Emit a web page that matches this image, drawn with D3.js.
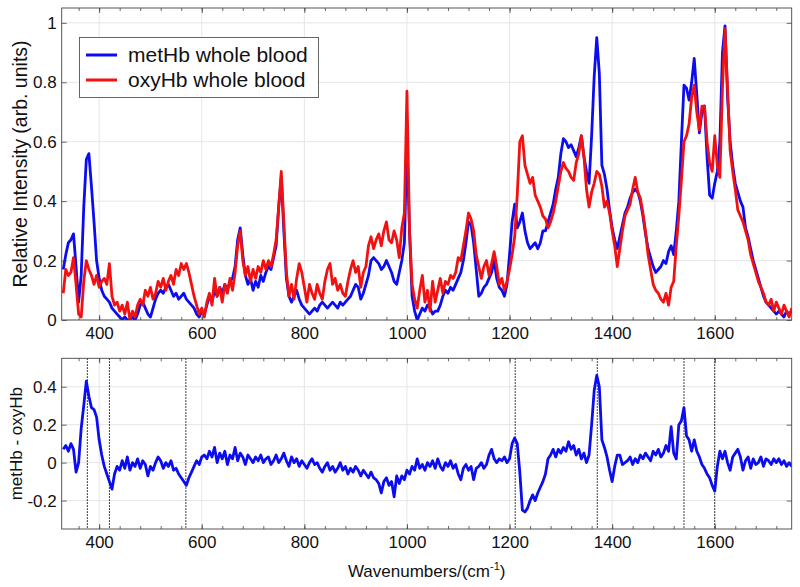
<!DOCTYPE html>
<html><head><meta charset="utf-8">
<script src="https://cdn.jsdelivr.net/npm/d3@7"></script>
<style>
body{margin:0;background:#fff}
svg{display:block}
text{font-family:"Liberation Sans",Arial,Helvetica,sans-serif;fill:#111}
</style>
</head><body><svg id="c" width="800" height="587"></svg>
<script>
// x sampling grid (cm^-1)
const wavenumbers = d3.range(330, 1751, 5);

const metHb = [
0.17,0.22,0.26,0.27,0.29,0.18,0.06,0.15,0.38,0.54,
0.56,0.45,0.33,0.2,0.14,0.1,0.08,0.07,0.06,0.04,
0.03,0.02,0.01,0.0,0.01,0.0,0.0,0.01,0.0,0.02,
0.05,0.06,0.04,0.02,0.01,0.04,0.07,0.09,0.1,0.09,
0.11,0.12,0.1,0.08,0.09,0.07,0.08,0.09,0.07,0.06,
0.05,0.04,0.02,0.01,0.03,0.02,0.05,0.08,0.06,0.1,
0.08,0.11,0.09,0.12,0.1,0.13,0.14,0.18,0.27,0.31,
0.22,0.15,0.12,0.14,0.1,0.13,0.11,0.15,0.13,0.16,
0.18,0.17,0.21,0.25,0.38,0.48,0.3,0.14,0.08,0.06,
0.08,0.1,0.07,0.05,0.04,0.03,0.02,0.03,0.04,0.03,
0.05,0.06,0.05,0.04,0.05,0.06,0.05,0.04,0.06,0.05,
0.06,0.07,0.08,0.1,0.12,0.11,0.07,0.09,0.12,0.15,
0.2,0.21,0.2,0.19,0.17,0.18,0.2,0.18,0.16,0.13,
0.12,0.16,0.2,0.26,0.6,0.3,0.08,0.03,0.0,0.02,
0.04,0.03,0.05,0.04,0.02,0.03,0.03,0.05,0.08,0.1,
0.09,0.11,0.1,0.12,0.14,0.16,0.2,0.26,0.33,0.32,
0.26,0.17,0.08,0.09,0.11,0.12,0.14,0.16,0.2,0.14,
0.11,0.1,0.08,0.12,0.22,0.33,0.39,0.31,0.33,0.36,
0.3,0.26,0.24,0.25,0.26,0.24,0.26,0.3,0.3,0.33,
0.36,0.39,0.44,0.48,0.56,0.61,0.6,0.58,0.59,0.57,
0.55,0.58,0.62,0.55,0.5,0.46,0.62,0.82,0.95,0.83,
0.52,0.49,0.44,0.37,0.31,0.27,0.24,0.28,0.32,0.36,
0.38,0.41,0.43,0.44,0.43,0.4,0.35,0.29,0.24,0.21,
0.18,0.16,0.17,0.18,0.2,0.19,0.23,0.25,0.22,0.3,
0.4,0.6,0.79,0.78,0.74,0.8,0.88,0.76,0.63,0.7,
0.72,0.55,0.42,0.41,0.46,0.5,0.6,0.9,0.99,0.75,
0.6,0.52,0.46,0.43,0.4,0.38,0.31,0.28,0.24,0.2,
0.17,0.14,0.11,0.08,0.06,0.05,0.04,0.03,0.02,0.03,
0.02,0.01,0.03,0.02,0.03];

const oxyHb = [
0.09,0.17,0.15,0.16,0.21,0.12,0.02,0.01,0.13,0.2,
0.17,0.15,0.12,0.15,0.11,0.13,0.14,0.12,0.19,0.08,
0.05,0.06,0.03,0.05,0.02,0.06,0.0,0.03,0.01,0.05,
0.07,0.05,0.1,0.08,0.11,0.07,0.09,0.13,0.11,0.14,
0.1,0.13,0.15,0.12,0.17,0.15,0.19,0.17,0.19,0.16,
0.12,0.08,0.05,0.02,0.04,0.01,0.06,0.09,0.05,0.14,
0.08,0.11,0.06,0.12,0.09,0.14,0.1,0.16,0.25,0.3,
0.2,0.15,0.18,0.13,0.17,0.14,0.18,0.16,0.2,0.17,
0.2,0.18,0.22,0.27,0.38,0.5,0.33,0.16,0.08,0.12,
0.07,0.14,0.19,0.16,0.11,0.06,0.12,0.09,0.07,0.12,
0.09,0.07,0.13,0.17,0.19,0.12,0.14,0.1,0.12,0.09,
0.08,0.13,0.17,0.2,0.16,0.18,0.11,0.16,0.18,0.25,
0.28,0.24,0.27,0.29,0.25,0.3,0.33,0.27,0.26,0.3,
0.27,0.21,0.31,0.36,0.77,0.3,0.12,0.07,0.04,0.1,
0.15,0.06,0.1,0.03,0.13,0.06,0.1,0.14,0.09,0.13,
0.12,0.15,0.14,0.16,0.21,0.2,0.25,0.3,0.36,0.34,
0.3,0.22,0.18,0.14,0.18,0.2,0.15,0.19,0.23,0.18,
0.12,0.14,0.1,0.13,0.17,0.22,0.28,0.42,0.6,0.62,
0.52,0.49,0.46,0.48,0.42,0.4,0.38,0.35,0.34,0.31,
0.33,0.36,0.4,0.45,0.5,0.53,0.51,0.5,0.48,0.47,
0.53,0.56,0.62,0.55,0.44,0.38,0.43,0.46,0.5,0.49,
0.45,0.38,0.4,0.36,0.3,0.25,0.18,0.24,0.3,0.35,
0.37,0.39,0.44,0.48,0.43,0.41,0.36,0.3,0.22,0.17,
0.12,0.1,0.09,0.07,0.06,0.09,0.05,0.11,0.13,0.25,
0.35,0.47,0.6,0.62,0.66,0.75,0.79,0.7,0.64,0.72,
0.72,0.6,0.53,0.5,0.62,0.52,0.48,0.78,0.98,0.78,
0.57,0.5,0.44,0.37,0.35,0.33,0.3,0.27,0.22,0.19,
0.16,0.13,0.11,0.09,0.06,0.05,0.07,0.03,0.06,0.04,
0.02,0.05,0.03,0.01,0.04];

const difference = [
0.07,0.09,0.06,0.1,0.07,-0.05,0.0,0.18,0.3,0.43,
0.35,0.29,0.28,0.24,0.12,0.04,-0.02,-0.06,-0.1,-0.14,
-0.06,-0.02,-0.04,0.01,-0.03,0.03,-0.04,0.0,-0.02,0.02,
-0.03,0.01,-0.01,-0.07,-0.02,-0.04,0.0,0.03,0.01,-0.03,
0.0,-0.02,0.01,-0.04,-0.03,-0.06,-0.08,-0.1,-0.12,-0.08,
-0.05,-0.02,0.01,-0.01,0.03,0.04,0.02,0.06,0.03,0.08,
0.0,0.05,0.02,0.06,-0.01,0.04,0.02,0.08,0.01,0.05,
0.03,-0.01,0.04,0.02,0.0,0.03,0.01,0.04,0.0,0.02,
0.03,-0.01,0.01,0.04,0.0,0.02,0.05,0.01,-0.02,0.03,
0.0,0.02,-0.02,0.01,-0.01,-0.03,0.0,0.02,-0.01,0.0,
-0.03,-0.05,-0.02,0.0,-0.04,-0.02,-0.05,-0.03,0.0,-0.04,
-0.02,-0.06,-0.03,-0.05,-0.02,-0.04,-0.07,-0.04,-0.06,-0.08,
-0.05,-0.08,-0.09,-0.11,-0.16,-0.1,-0.08,-0.12,-0.1,-0.18,
-0.07,-0.11,-0.07,-0.09,-0.04,-0.06,-0.02,-0.04,0.02,-0.03,
-0.01,-0.04,0.0,-0.02,0.01,-0.03,0.02,-0.02,-0.04,0.0,
-0.02,0.01,-0.03,-0.01,-0.06,-0.09,-0.03,-0.01,-0.04,-0.02,
-0.09,-0.03,-0.02,0.0,-0.03,-0.01,0.04,0.07,0.02,0.0,
0.02,0.01,0.03,0.0,0.02,0.1,0.13,0.1,-0.05,-0.25,
-0.26,-0.24,-0.2,-0.17,-0.2,-0.16,-0.13,-0.1,-0.06,0.02,
0.04,0.07,0.03,0.07,0.05,0.08,0.06,0.11,0.07,0.09,
0.04,0.07,0.02,0.05,0.0,0.04,0.2,0.38,0.46,0.4,
0.12,0.08,0.03,-0.04,-0.1,-0.02,0.04,0.04,-0.01,0.0,
0.01,0.03,-0.01,0.02,0.0,0.04,0.02,0.05,0.03,0.01,
0.06,0.04,0.07,0.03,0.05,0.09,0.06,0.19,0.05,0.02,
0.2,0.22,0.29,0.14,0.12,0.06,0.12,0.06,0.03,-0.01,
-0.03,-0.06,-0.08,-0.12,-0.15,-0.02,0.06,0.02,0.06,0.0,
-0.04,0.03,0.05,0.07,0.03,-0.04,0.01,0.03,-0.03,0.02,
-0.01,0.0,0.03,-0.02,0.02,0.01,-0.01,0.02,0.0,0.02,
-0.01,0.01,-0.02,0.0,-0.02];

const markerLines = [377, 420, 569, 1211, 1371, 1540, 1600];
const xTicks = [400, 600, 800, 1000, 1200, 1400, 1600];
const xMinorTicks = [360,400,440,480,520,560,600,640,680,720,760,800,840,880,920,960,1000,1040,1080,1120,1160,1200,1240,1280,1320,1360,1400,1440,1480,1520,1560,1600,1640,1680,1720];
const yTopTicks = [0, 0.2, 0.4, 0.6, 0.8, 1];
const yBotTicks = [-0.2, 0, 0.2, 0.4];
const seriesNames = ["metHb whole blood", "oxyHb whole blood"];
const seriesColors = ["#0c0cf0", "#f21010"];

const svg = d3.select("#c");
const L = 61.7, R = 791.7;
const x = d3.scaleLinear().domain([327, 1750]).range([L, R]);
const yTop = d3.scaleLinear().domain([0, 1.05]).range([320, 8]);
const yBot = d3.scaleLinear().domain([-0.35, 0.55]).range([529, 358.3]);

const defs = svg.append("defs");

function panel(id, y, yTicks) {
  const [y0, y1] = [y.range()[1], y.range()[0]];
  const g = svg.append("g");
  defs.append("clipPath").attr("id", id).append("rect")
    .attr("x", L).attr("y", y0).attr("width", R - L).attr("height", y1 - y0);
  // grid
  g.append("g").selectAll("line").data(xTicks).join("line")
    .attr("x1", d => x(d)).attr("x2", d => x(d)).attr("y1", y0).attr("y2", y1)
    .attr("stroke", "#e6e6e6").attr("stroke-width", 1);
  g.append("g").selectAll("line").data(yTicks).join("line")
    .attr("x1", L).attr("x2", R).attr("y1", d => y(d)).attr("y2", d => y(d))
    .attr("stroke", "#e6e6e6").attr("stroke-width", 1);
  const plot = g.append("g").attr("clip-path", `url(#${id})`);
  return {g, plot, y0, y1};
}

function axes(p, y, yTicks) {
  const {g, y0, y1} = p;
  const fmt = d => String(d);
  const styleAx = sel => {
    sel.select(".domain").remove();
    sel.selectAll(".tick line").attr("stroke", "#444").attr("stroke-width", 0.8);
    sel.selectAll("text").attr("font-size", 17).attr("fill", "#111")
      .attr("font-family", '"Liberation Sans",Arial,sans-serif');
  };
  g.append("g").attr("transform", `translate(0,${y1})`)
    .call(d3.axisBottom(x).tickValues(xMinorTicks).tickSize(-3).tickFormat("")).call(styleAx);
  g.append("g").attr("transform", `translate(0,${y0})`)
    .call(d3.axisTop(x).tickValues(xMinorTicks).tickSize(-3).tickFormat("")).call(styleAx);
  g.append("g").attr("transform", `translate(0,${y1})`)
    .call(d3.axisBottom(x).tickValues(xTicks).tickSize(-5).tickPadding(7).tickFormat(fmt)).call(styleAx);
  g.append("g").attr("transform", `translate(0,${y0})`)
    .call(d3.axisTop(x).tickValues(xTicks).tickSize(-5).tickFormat("")).call(styleAx);
  g.append("g").attr("transform", `translate(${L},0)`)
    .call(d3.axisLeft(y).tickValues(yTicks).tickSize(-5).tickPadding(5).tickFormat(fmt)).call(styleAx);
  g.append("g").attr("transform", `translate(${R},0)`)
    .call(d3.axisRight(y).tickValues(yTicks).tickSize(-5).tickFormat("")).call(styleAx);
  g.append("rect").attr("x", L).attr("y", y0).attr("width", R - L).attr("height", y1 - y0)
    .attr("fill", "none").attr("stroke", "#444").attr("stroke-width", 0.9);
}

// top panel
const pTop = panel("clipTop", yTop, yTopTicks);
[metHb, oxyHb].forEach((vals, i) => {
  const line = d3.line().x((d, j) => x(wavenumbers[j])).y(d => yTop(d));
  pTop.plot.append("path").datum(vals).attr("d", line)
    .attr("fill", "none").attr("stroke", seriesColors[i]).attr("stroke-width", 2.8)
    .attr("stroke-linejoin", "round");
});
axes(pTop, yTop, yTopTicks);

// legend
const lg = svg.append("g");
lg.append("rect").attr("x", 79.5).attr("y", 37.5).attr("width", 239).attr("height", 60)
  .attr("fill", "#fff").attr("stroke", "#555").attr("stroke-width", 0.9);
seriesNames.forEach((name, i) => {
  const yy = 55 + i * 25;
  lg.append("line").attr("x1", 86).attr("x2", 117).attr("y1", yy).attr("y2", yy)
    .attr("stroke", seriesColors[i]).attr("stroke-width", 3);
  lg.append("text").attr("x", 128).attr("y", yy).attr("dy", "0.35em")
    .attr("font-size", 21).text(name);
});

// bottom panel
const pBot = panel("clipBot", yBot, yBotTicks);
pBot.plot.append("g").selectAll("line").data(markerLines).join("line")
  .attr("x1", d => x(d)).attr("x2", d => x(d)).attr("y1", pBot.y0).attr("y2", pBot.y1)
  .attr("stroke", "#000").attr("stroke-width", 1).attr("stroke-dasharray", "1.5,1.5");
pBot.plot.append("path").datum(difference)
  .attr("d", d3.line().x((d, j) => x(wavenumbers[j])).y(d => yBot(d)))
  .attr("fill", "none").attr("stroke", seriesColors[0]).attr("stroke-width", 2.8)
  .attr("stroke-linejoin", "round");
axes(pBot, yBot, yBotTicks);

// axis titles
svg.append("text").attr("transform", `translate(27,${(8 + 320) / 2}) rotate(-90)`)
  .attr("text-anchor", "middle").attr("font-size", 19.5).text("Relative Intensity (arb. units)");
svg.append("text").attr("transform", `translate(22,${(358.3 + 529) / 2}) rotate(-90)`)
  .attr("text-anchor", "middle").attr("font-size", 17).text("metHb - oxyHb");
const xt = svg.append("text").attr("x", (L + R) / 2).attr("y", 577)
  .attr("text-anchor", "middle").attr("font-size", 17);
xt.append("tspan").text("Wavenumbers/(cm");
xt.append("tspan").attr("font-size", 11).attr("dy", -7).text("-1");
xt.append("tspan").attr("dy", 7).text(")");
</script></body></html>
